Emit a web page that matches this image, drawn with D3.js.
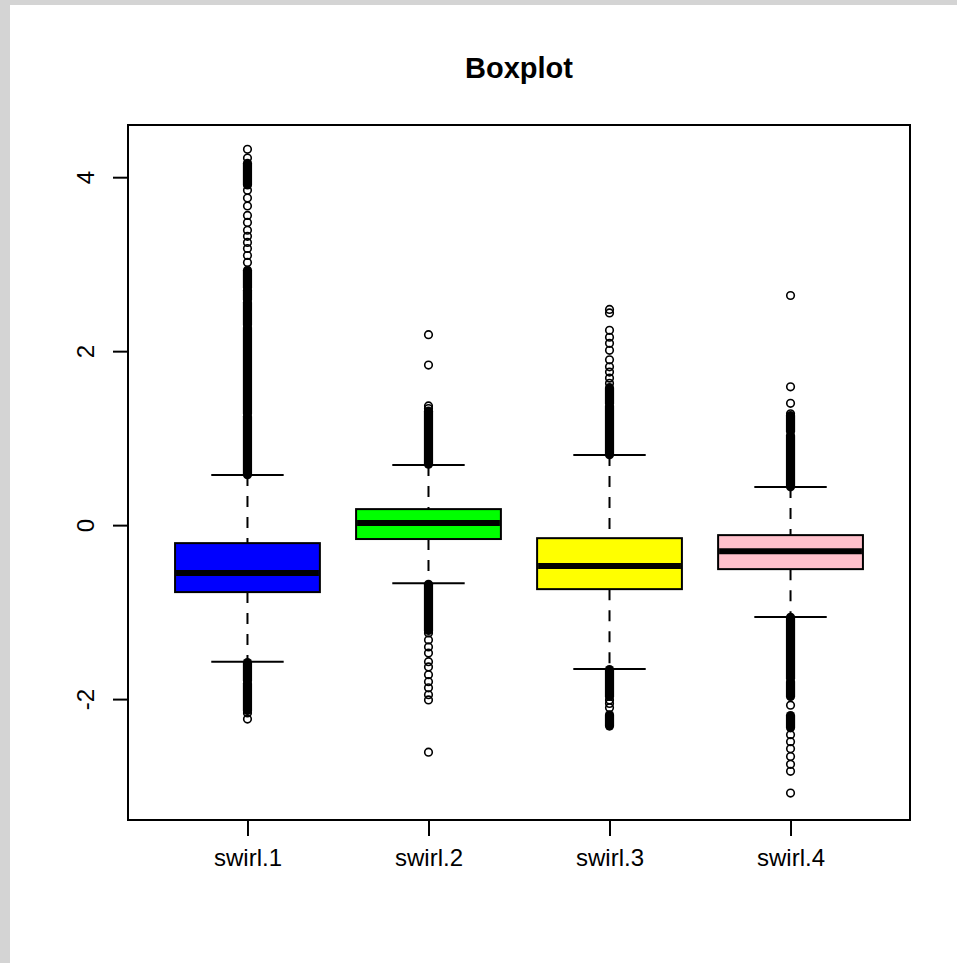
<!DOCTYPE html>
<html lang="en">
<head>
    <meta charset="UTF-8">
    <title>Boxplot</title>
    <script src="https://cdn.jsdelivr.net/npm/d3@7"></script>
    <style>
        body {
            margin: 0;
            background-color: white;
        }
        .chart-text {
            font-family: "Liberation Sans", Arial, sans-serif;
            fill: black;
        }
        .title {
            font-size: 29px;
            font-weight: bold;
        }
        .tick-label {
            font-size: 24px;
        }
    </style>
</head>
<body>

    <svg id="boxChart" width="957" height="963"></svg>

    <script>
        // Box statistics
        const categories = ["swirl.1", "swirl.2", "swirl.3", "swirl.4"];
        const lowerWhisker = [-1.57, -0.667, -1.655, -1.057];
        const q1 = [-0.77, -0.16, -0.736, -0.506];
        const median = [-0.55, 0.023, -0.47, -0.30];
        const q3 = [-0.207, 0.184, -0.15, -0.115];
        const upperWhisker = [0.575, 0.69, 0.805, 0.437];
        const yTicks = [-2, 0, 2, 4];

        // Single outliers that can be told apart
        const outlierPoints = [
            [4.32, 4.22, 3.85, 3.76, 3.67, 3.56, 3.48, 3.39, 3.32, 3.25, 3.18, 3.10, 3.02,
             -2.16, -2.23],
            [2.19, 1.84, 1.37, 1.34,
             -1.24, -1.32, -1.40, -1.47, -1.57, -1.63, -1.72, -1.80, -1.87, -1.95, -2.01, -2.61],
            [2.48, 2.44, 2.24, 2.16, 2.09, 2.01, 1.90, 1.82, 1.76, 1.69, 1.63,
             -2.01, -2.05, -2.10],
            [2.64, 1.59, 1.40, 1.28,
             -2.07, -2.41, -2.49, -2.57, -2.66, -2.75, -2.83, -3.08]
        ];

        // Runs of outliers so dense they merge into a solid bar: [low, high]
        const outlierRuns = [
            [[0.58, 1.25], [1.28, 2.27], [2.30, 2.56], [2.59, 2.70], [2.73, 2.93], [3.91, 4.16],
             [-2.13, -1.82], [-1.79, -1.58]],
            [[0.70, 1.31], [-1.21, -0.68]],
            [[0.81, 1.37], [1.40, 1.58], [-1.97, -1.66], [-2.31, -2.18]],
            [[0.44, 1.03], [1.08, 1.26], [-1.76, -1.06], [-1.97, -1.80], [-2.33, -2.19]]
        ];

        const boxColors = ["#0000ff", "#00ff00", "#ffff00", "#ffc0cb"];

        const data = categories.map((c, i) => ({
            index: i + 1,
            category: c,
            lo: lowerWhisker[i],
            q1: q1[i],
            med: median[i],
            q3: q3[i],
            hi: upperWhisker[i],
            points: outlierPoints[i],
            runs: outlierRuns[i],
            color: boxColors[i]
        }));

        // Plot frame
        const frame = { left: 128, right: 910, top: 125, bottom: 820 };

        const svg = d3.select("#boxChart");

        // grey page edge on the left and top
        svg.append("rect").attr("x", 0).attr("y", 0).attr("width", 957).attr("height", 5).attr("fill", "#d4d4d4");
        svg.append("rect").attr("x", 0).attr("y", 0).attr("width", 10).attr("height", 963).attr("fill", "#d4d4d4");

        // Scales (R pads the range by 4%)
        const xScale = d3.scaleLinear()
            .domain([0.34, 4.66])
            .range([frame.left, frame.right]);

        const yScale = d3.scaleLinear()
            .domain([-3.39, 4.6])
            .range([frame.bottom, frame.top]);

        const boxHalf = (xScale(1.4) - xScale(1)) ;
        const capHalf = boxHalf / 2;
        const r = 3.8;

        // Title
        svg.append("text")
            .attr("class", "chart-text title")
            .attr("x", (frame.left + frame.right) / 2)
            .attr("y", 78)
            .attr("text-anchor", "middle")
            .text("Boxplot");

        // Axes
        const yAxis = svg.append("g")
            .attr("transform", `translate(${frame.left},0)`)
            .call(d3.axisLeft(yScale).tickValues(yTicks).tickSize(15).tickFormat(d3.format("d")));
        yAxis.select(".domain").remove();
        yAxis.selectAll("line").attr("stroke", "black").attr("stroke-width", 2);
        yAxis.selectAll("text")
            .attr("class", "chart-text tick-label")
            .attr("font-size", null)
            .attr("font-family", null)
            .attr("x", null).attr("dy", null)
            .attr("text-anchor", "middle")
            .attr("transform", "translate(-34,0) rotate(-90)")
            .text(d => d < 0 ? "-" + Math.abs(d) : d);

        const xAxis = svg.append("g")
            .attr("transform", `translate(0,${frame.bottom})`)
            .call(d3.axisBottom(xScale).tickValues(data.map(d => d.index)).tickSize(16)
                .tickFormat(d => categories[d - 1]));
        xAxis.select(".domain").remove();
        xAxis.selectAll("line").attr("stroke", "black").attr("stroke-width", 2);
        xAxis.selectAll("text")
            .attr("class", "chart-text tick-label")
            .attr("font-size", null)
            .attr("font-family", null)
            .attr("y", 46)
            .attr("dy", null);

        // Boxes
        const boxes = svg.selectAll(".box")
            .data(data)
            .enter()
            .append("g")
            .attr("class", "box");

        // dashed whiskers
        boxes.append("line")
            .attr("x1", d => xScale(d.index)).attr("x2", d => xScale(d.index))
            .attr("y1", d => yScale(d.hi)).attr("y2", d => yScale(d.q3))
            .attr("stroke", "black").attr("stroke-width", 2).attr("stroke-dasharray", "11,10");
        boxes.append("line")
            .attr("x1", d => xScale(d.index)).attr("x2", d => xScale(d.index))
            .attr("y1", d => yScale(d.q1)).attr("y2", d => yScale(d.lo))
            .attr("stroke", "black").attr("stroke-width", 2).attr("stroke-dasharray", "11,10");

        // caps
        boxes.append("line")
            .attr("x1", d => xScale(d.index) - capHalf).attr("x2", d => xScale(d.index) + capHalf)
            .attr("y1", d => yScale(d.hi)).attr("y2", d => yScale(d.hi))
            .attr("stroke", "black").attr("stroke-width", 2);
        boxes.append("line")
            .attr("x1", d => xScale(d.index) - capHalf).attr("x2", d => xScale(d.index) + capHalf)
            .attr("y1", d => yScale(d.lo)).attr("y2", d => yScale(d.lo))
            .attr("stroke", "black").attr("stroke-width", 2);

        // box body
        boxes.append("rect")
            .attr("x", d => xScale(d.index) - boxHalf)
            .attr("y", d => yScale(d.q3))
            .attr("width", boxHalf * 2)
            .attr("height", d => yScale(d.q1) - yScale(d.q3))
            .attr("fill", d => d.color)
            .attr("stroke", "black")
            .attr("stroke-width", 2);

        // median
        boxes.append("line")
            .attr("x1", d => xScale(d.index) - boxHalf + 1).attr("x2", d => xScale(d.index) + boxHalf - 1)
            .attr("y1", d => yScale(d.med)).attr("y2", d => yScale(d.med))
            .attr("stroke", "black").attr("stroke-width", 6);

        // dense outlier runs
        boxes.selectAll(".run")
            .data(d => d.runs.map(v => ({ index: d.index, lo: v[0], hi: v[1] })))
            .enter()
            .append("rect")
            .attr("class", "run")
            .attr("x", d => xScale(d.index) - r - 0.8)
            .attr("y", d => yScale(d.hi) - r - 0.8)
            .attr("width", 2 * r + 1.6)
            .attr("height", d => yScale(d.lo) - yScale(d.hi) + 2 * r + 1.6)
            .attr("rx", r + 0.8)
            .attr("fill", "black");

        // single outliers
        boxes.selectAll(".outlier")
            .data(d => d.points.map(v => ({ index: d.index, value: v })))
            .enter()
            .append("circle")
            .attr("class", "outlier")
            .attr("cx", d => xScale(d.index))
            .attr("cy", d => yScale(d.value))
            .attr("r", r)
            .attr("fill", "none")
            .attr("stroke", "black")
            .attr("stroke-width", 1.6);

        // frame drawn last
        svg.append("rect")
            .attr("x", frame.left)
            .attr("y", frame.top)
            .attr("width", frame.right - frame.left)
            .attr("height", frame.bottom - frame.top)
            .attr("fill", "none")
            .attr("stroke", "black")
            .attr("stroke-width", 2);
    </script>
</body>
</html>
